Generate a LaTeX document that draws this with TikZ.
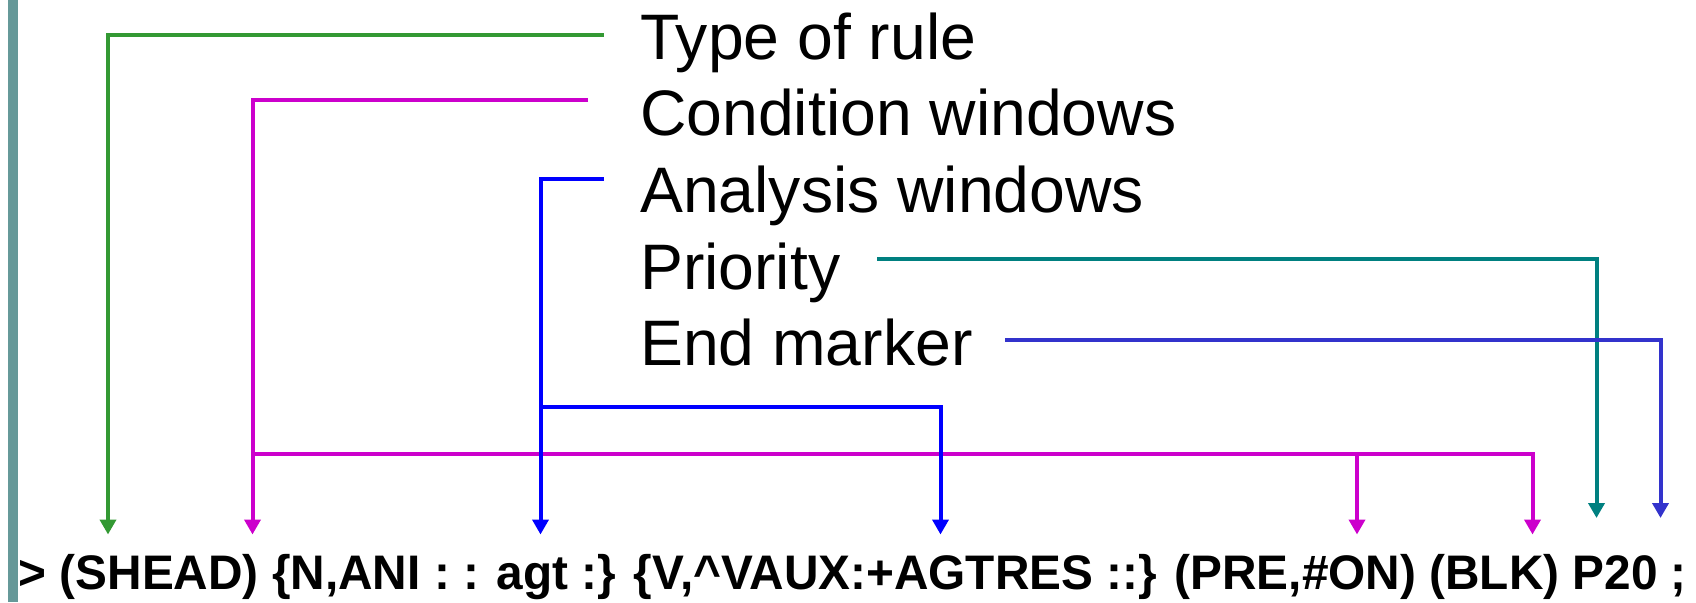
\documentclass[tikz,border=0pt]{standalone}
\usepackage{fontspec}
\setmainfont{Liberation Sans}
\usetikzlibrary{arrows.meta}
\definecolor{barcol}{RGB}{102,153,153}
\definecolor{cgreen}{RGB}{51,153,51}
\definecolor{cmag}{RGB}{204,0,204}
\definecolor{cblue}{RGB}{0,0,255}
\definecolor{cteal}{RGB}{0,128,128}
\definecolor{cindigo}{RGB}{51,51,204}
\tikzset{
  lbl/.style={anchor=base west, inner sep=0pt, font=\fontsize{64.3}{64}\selectfont},
  code/.style={anchor=base west, inner sep=0pt, font=\fontsize{48.5}{48}\selectfont\bfseries},
  wire/.style={line width=4pt, line join=miter},
  tip/.style={-{Triangle[length=15pt,width=16pt]}}
}
\begin{document}
\begin{tikzpicture}[x=1pt,y=-1pt]
\useasboundingbox (0,0) rectangle (1696,602);
% side bar
\fill[barcol] (8,0) rectangle (18,602);

% field names
\node[lbl] (typ)  at (640,59.5)  {Type of rule};
\node[lbl] (cond) at (640,135.5) {Condition windows};
\node[lbl] (ana)  at (640,212.5) {Analysis windows};
\node[lbl] (pri)  at (640,289)   {Priority};
\node[lbl] (endm) at (640,365.5) {End marker};

% the rule itself
\node[code] (rule) at (18.5,589)
  {\scalebox{0.985}[1]{> (SHEAD) \{N,ANI : : agt :\} \{V,\textasciicircum VAUX:+AGTRES ::\} (PRE,\#ON) (BLK) P20 ;}};

% connector ends
\coordinate (gS) at (603.5,34.6);
\coordinate (gT) at (108,534.5);
\coordinate (mS) at (588,99.5);
\coordinate (mT1) at (252.5,534.5);
\coordinate (mB) at (252.5,454);
\coordinate (mT2) at (1357,534.5);
\coordinate (mT3) at (1532.5,534.5);
\coordinate (bS) at (603.5,178.5);
\coordinate (bT1) at (540.5,534.5);
\coordinate (bB) at (540.5,406.7);
\coordinate (bT2) at (940.5,534.5);
\coordinate (tS) at (877,258.5);
\coordinate (tT) at (1596.5,518);
\coordinate (iS) at (1005,339.6);
\coordinate (iT) at (1660.5,518);

% type of rule
\draw[wire,tip,cgreen] (gS) -| (gT);
% condition windows
\draw[wire,tip,cmag] (mS) -| (mT1);
\draw[wire,tip,cmag] (mB) -| (mT3);
\draw[wire,tip,cmag] (mT2 |- mB) -- (mT2);
% analysis windows
\draw[wire,tip,cblue] (bS) -| (bT1);
\draw[wire,tip,cblue] (bB) -| (bT2);
% priority
\draw[wire,tip,cteal] (tS) -| (tT);
% end marker
\draw[wire,tip,cindigo] (iS) -| (iT);
\end{tikzpicture}
\end{document}
